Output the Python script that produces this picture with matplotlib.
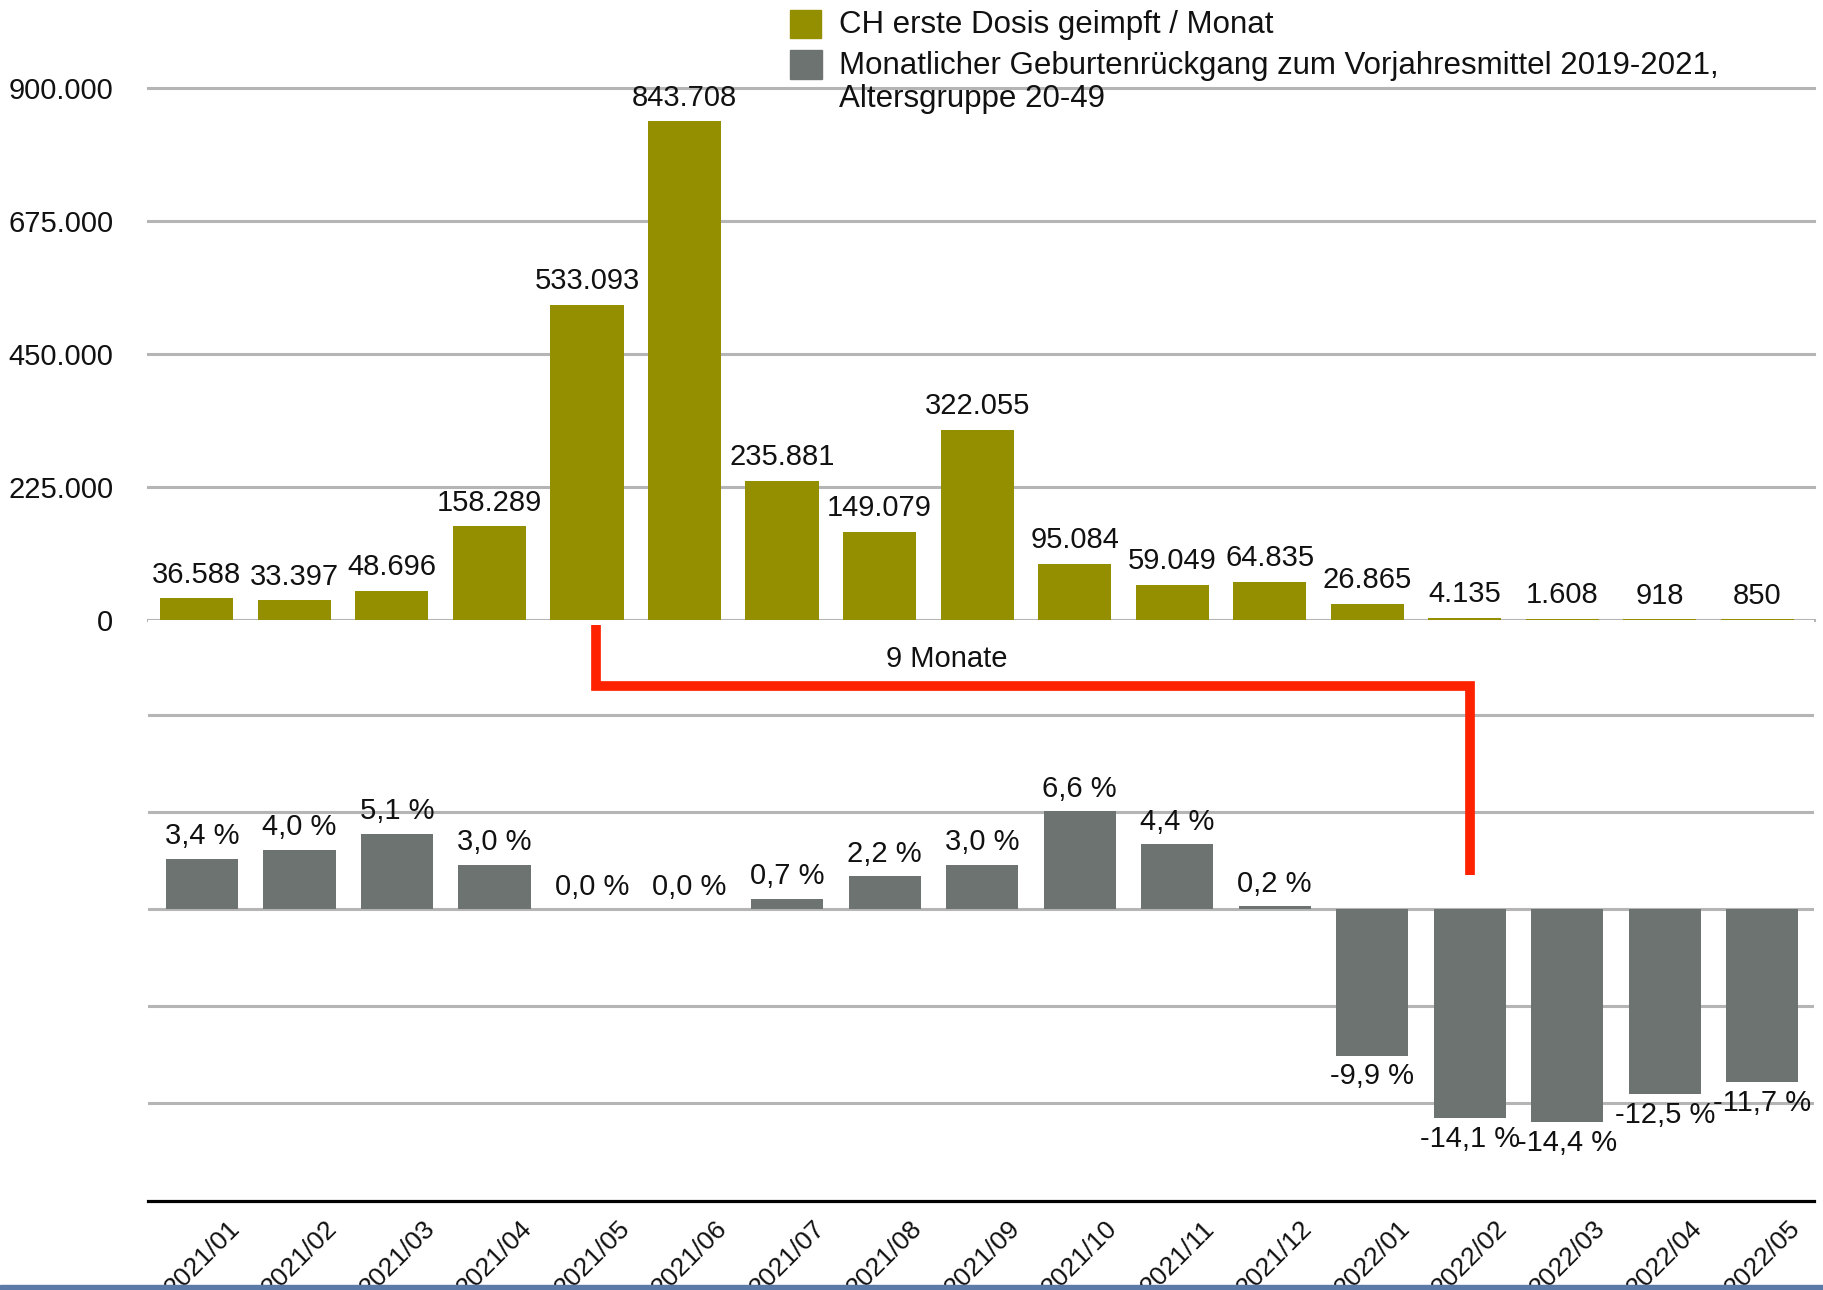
import matplotlib
matplotlib.use("Agg")
import matplotlib.pyplot as plt
import numpy as np
from matplotlib.patches import Rectangle
from matplotlib.ticker import FuncFormatter

plt.rcParams['font.family'] = ['Liberation Sans', 'DejaVu Sans']

months = ["2021/01", "2021/02", "2021/03", "2021/04", "2021/05", "2021/06",
          "2021/07", "2021/08", "2021/09", "2021/10", "2021/11", "2021/12",
          "2022/01", "2022/02", "2022/03", "2022/04", "2022/05"]
first_doses = [36588, 33397, 48696, 158289, 533093, 843708, 235881, 149079,
               322055, 95084, 59049, 64835, 26865, 4135, 1608, 918, 850]
birth_change = [3.4, 4.0, 5.1, 3.0, 0.0, 0.0, 0.7, 2.2, 3.0, 6.6, 4.4, 0.2,
                -9.9, -14.1, -14.4, -12.5, -11.7]
top_ticks = [0, 225000, 450000, 675000, 900000]
legend_labels = ["CH erste Dosis geimpft / Monat",
                 "Monatlicher Geburtenrückgang zum Vorjahresmittel 2019-2021,",
                 "Altersgruppe 20-49"]

OLIVE = "#948F00"
GREY = "#6C7370"
RED = "#FF2200"
GRID = "#B5B5B5"
TXT = "#111111"
FS = 21

W, H = 1823, 1290
fig = plt.figure(figsize=(W / 100, H / 100), dpi=100)


def fx(px):
    return px / W


def fy(py):
    return 1 - py / H


x = np.arange(len(months))

# top panel: vaccinations
ax_top = fig.add_axes([fx(148), fy(620), fx(1814) - fx(148), fy(88) - fy(620)])
ax_top.set_xlim(-0.5, 16.58)
ax_top.set_ylim(0, 900000)
for t in top_ticks:
    ax_top.axhline(t, color=GRID, lw=2.2, zorder=0, clip_on=False)
ax_top.bar(x, first_doses, width=0.75, color=OLIVE, zorder=2)
for xi, v in zip(x, first_doses):
    ax_top.annotate(f"{v:,}".replace(",", "."), (xi, v), xytext=(0, 7),
                    textcoords="offset points", ha="center", va="bottom",
                    fontsize=FS, color=TXT, annotation_clip=False)
ax_top.set_yticks(top_ticks)
ax_top.yaxis.set_major_formatter(FuncFormatter(lambda v, p: f"{v:,.0f}".replace(",", ".")))
ax_top.tick_params(axis="y", length=0, pad=25, labelsize=FS, labelcolor=TXT)
ax_top.set_xticks([])
for s in ax_top.spines.values():
    s.set_visible(False)

# bottom panel: birth decline
ax_bot = fig.add_axes([fx(148), fy(1201), fx(1814) - fx(148), fy(620) - fy(1201)])
ax_bot.set_xlim(-0.554, 16.53)
ax_bot.set_ylim(-19.73, 19.53)
for t in [-13.1, -6.55, 0, 6.55, 13.1]:
    ax_bot.axhline(t, color=GRID, lw=2.2, zorder=0)
ax_bot.bar(x, birth_change, width=0.74, color=GREY, zorder=2)
for xi, v in zip(x, birth_change):
    lab = f"{v:.1f} %".replace(".", ",")
    if v >= 0:
        ax_bot.annotate(lab, (xi, v), xytext=(0, 6), textcoords="offset points",
                        ha="center", va="bottom", fontsize=FS, color=TXT)
    else:
        ax_bot.annotate(lab, (xi, v), xytext=(0, -5), textcoords="offset points",
                        ha="center", va="top", fontsize=FS, color=TXT)

# 9 month lag marker
ax_bot.plot([4.04, 4.04, 13, 13], [19.2, 15.1, 15.1, 2.3], color=RED, lw=7,
            solid_joinstyle="miter", solid_capstyle="butt", zorder=3, clip_on=False)
ax_bot.text(7.64, 16.9, "9 Monate", ha="center", va="center", fontsize=FS, color=TXT)

ax_bot.set_yticks([])
ax_bot.set_xticks(x)
ax_bot.set_xticklabels(months, rotation=45, ha="center", fontsize=19, color=TXT)
ax_bot.tick_params(axis="x", length=0, pad=11)
for name, s in ax_bot.spines.items():
    s.set_visible(name == "bottom")
ax_bot.spines["bottom"].set_color("black")
ax_bot.spines["bottom"].set_linewidth(2.3)

# legend
LFS = 22.5
fig.add_artist(Rectangle((fx(790), fy(38)), fx(31), 28 / H, color=OLIVE,
                         transform=fig.transFigure))
fig.add_artist(Rectangle((fx(790), fy(79)), fx(32), 29 / H, color=GREY,
                         transform=fig.transFigure))
fig.text(fx(839), fy(33), legend_labels[0], fontsize=LFS, color=TXT, va="baseline")
fig.text(fx(839), fy(74), legend_labels[1], fontsize=LFS, color=TXT, va="baseline")
fig.text(fx(839), fy(107), legend_labels[2], fontsize=LFS, color=TXT, va="baseline")

# blue strip along the bottom edge
fig.add_artist(Rectangle((0, 0), 1, 5 / H, color="#5B7AA8",
                         transform=fig.transFigure, zorder=10))

fig.savefig("out.png", dpi=100)
